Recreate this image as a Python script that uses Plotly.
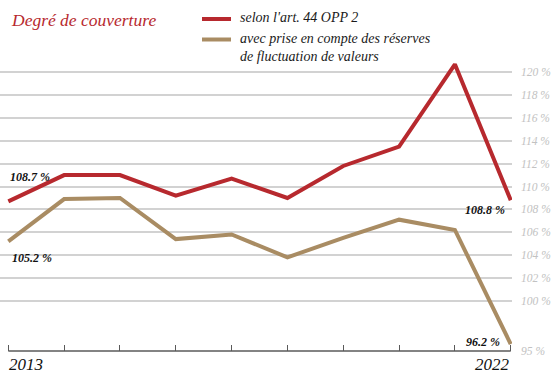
import plotly.graph_objects as go

years = list(range(2013, 2023))
art44 = [108.7, 111.0, 111.0, 109.2, 110.7, 109.0, 111.8, 113.5, 120.7, 108.8]
with_reserves = [105.2, 108.9, 109.0, 105.4, 105.8, 103.8, 105.5, 107.1, 106.2, 96.2]

series_names = ["selon l'art. 44 OPP 2",
                "avec prise en compte des réserves<br>de fluctuation de valeurs"]
title_text = "Degré de couverture"

y_tick_vals = [100, 102, 104, 106, 108, 110, 112, 114, 116, 118, 120]
y_floor_label = "95 %"

RED = "#b7292e"
TAN = "#a98c63"
GRID = "#d2d2d2"
AXIS = "#5a5a5a"
TICKLBL = "#c2c2c2"
FONT = "Liberation Serif"

W, H = 555, 378
ML, MR, MT, MB = 0, 43, 56, 27
PW = W - ML - MR
PH = H - MT - MB

y_min = 95.6
y_max = 121.43
x_min = 2012.851
x_max = 2022.023


def px(xp):
    return (xp - ML) / PW


def py(yp):
    return (H - MB - yp) / PH


fig = go.Figure()
fig.add_trace(go.Scatter(x=years, y=with_reserves, mode="lines",
                         line=dict(color=TAN, width=4), name=series_names[1],
                         showlegend=False))
fig.add_trace(go.Scatter(x=years, y=art44, mode="lines",
                         line=dict(color=RED, width=4), name=series_names[0],
                         showlegend=False))

tickvals = [y_min] + y_tick_vals
ticktext = [y_floor_label] + [f"{v} %" for v in y_tick_vals]

fig.update_layout(
    width=W, height=H,
    margin=dict(l=ML, r=MR, t=MT, b=MB, pad=0),
    paper_bgcolor="white", plot_bgcolor="white",
    showlegend=False,
    xaxis=dict(range=[x_min, x_max], tickvals=years, ticktext=[""] * len(years),
               ticks="inside", ticklen=6, tickwidth=1.2, tickcolor=AXIS,
               showgrid=False, zeroline=False, showline=False, fixedrange=True),
    yaxis=dict(range=[y_min, y_max], side="right", tickvals=tickvals,
               ticktext=ticktext, showgrid=True, gridcolor=GRID, gridwidth=1.6,
               zeroline=False, showline=False, ticks="",
               ticklabelstandoff=8,
               tickfont=dict(family=FONT, size=11.5, color=TICKLBL, style="italic"),
               fixedrange=True),
)

# x axis baseline from first to last year
fig.add_shape(type="line", xref="x", yref="paper", x0=years[0], x1=years[-1],
              y0=0, y1=0, line=dict(color=AXIS, width=1.5), layer="above")

# header title
fig.add_annotation(text=title_text, xref="paper", yref="paper", x=px(9), y=py(20),
                   xanchor="left", yanchor="middle", showarrow=False,
                   font=dict(family=FONT, size=17.5, color=RED, style="italic"))

# legend
fig.add_shape(type="line", xref="paper", yref="paper", x0=px(202), x1=px(231),
              y0=py(19), y1=py(19), line=dict(color=RED, width=4))
fig.add_shape(type="line", xref="paper", yref="paper", x0=px(202), x1=px(231),
              y0=py(39.5), y1=py(39.5), line=dict(color=TAN, width=4))
fig.add_annotation(text=series_names[0], xref="paper", yref="paper", x=px(238), y=py(17),
                   xanchor="left", yanchor="middle", showarrow=False,
                   font=dict(family=FONT, size=14, color="#1a1a1a", style="italic"))
fig.add_annotation(text=series_names[1], xref="paper", yref="paper", x=px(238), y=py(47.5),
                   xanchor="left", yanchor="middle", showarrow=False, align="left",
                   font=dict(family=FONT, size=14, color="#1a1a1a", style="italic"))

# year labels
fig.add_annotation(text=str(years[0]), xref="x", yref="paper", x=years[0], y=py(364),
                   xanchor="left", yanchor="middle", showarrow=False, xshift=-1,
                   font=dict(family=FONT, size=17, color="#111", style="italic"))
fig.add_annotation(text=str(years[-1]), xref="x", yref="paper", x=years[-1], y=py(364),
                   xanchor="right", yanchor="middle", showarrow=False, xshift=1,
                   font=dict(family=FONT, size=17, color="#111", style="italic"))

# value labels
lblfont = dict(family=FONT, size=12, color="#111", style="italic", weight="bold")
fig.add_annotation(text=f"{art44[0]} %", x=years[0], y=art44[0], xanchor="left",
                   yanchor="middle", showarrow=False, yshift=24, font=lblfont)
fig.add_annotation(text=f"{with_reserves[0]} %", x=years[0], y=with_reserves[0],
                   xanchor="left", yanchor="middle", showarrow=False, yshift=-17,
                   xshift=2, font=lblfont)
fig.add_annotation(text=f"{art44[-1]} %", x=years[-1], y=art44[-1], xanchor="right",
                   yanchor="middle", showarrow=False, yshift=-10, xshift=-4, font=lblfont)
fig.add_annotation(text=f"{with_reserves[-1]} %", x=years[-1], y=with_reserves[-1],
                   xanchor="right", yanchor="middle", showarrow=False, yshift=2,
                   xshift=-9, font=lblfont)

fig.write_html("out.html", config={"displayModeBar": False},
               post_script="document.body.style.margin='0px';document.body.style.overflow='hidden';")
